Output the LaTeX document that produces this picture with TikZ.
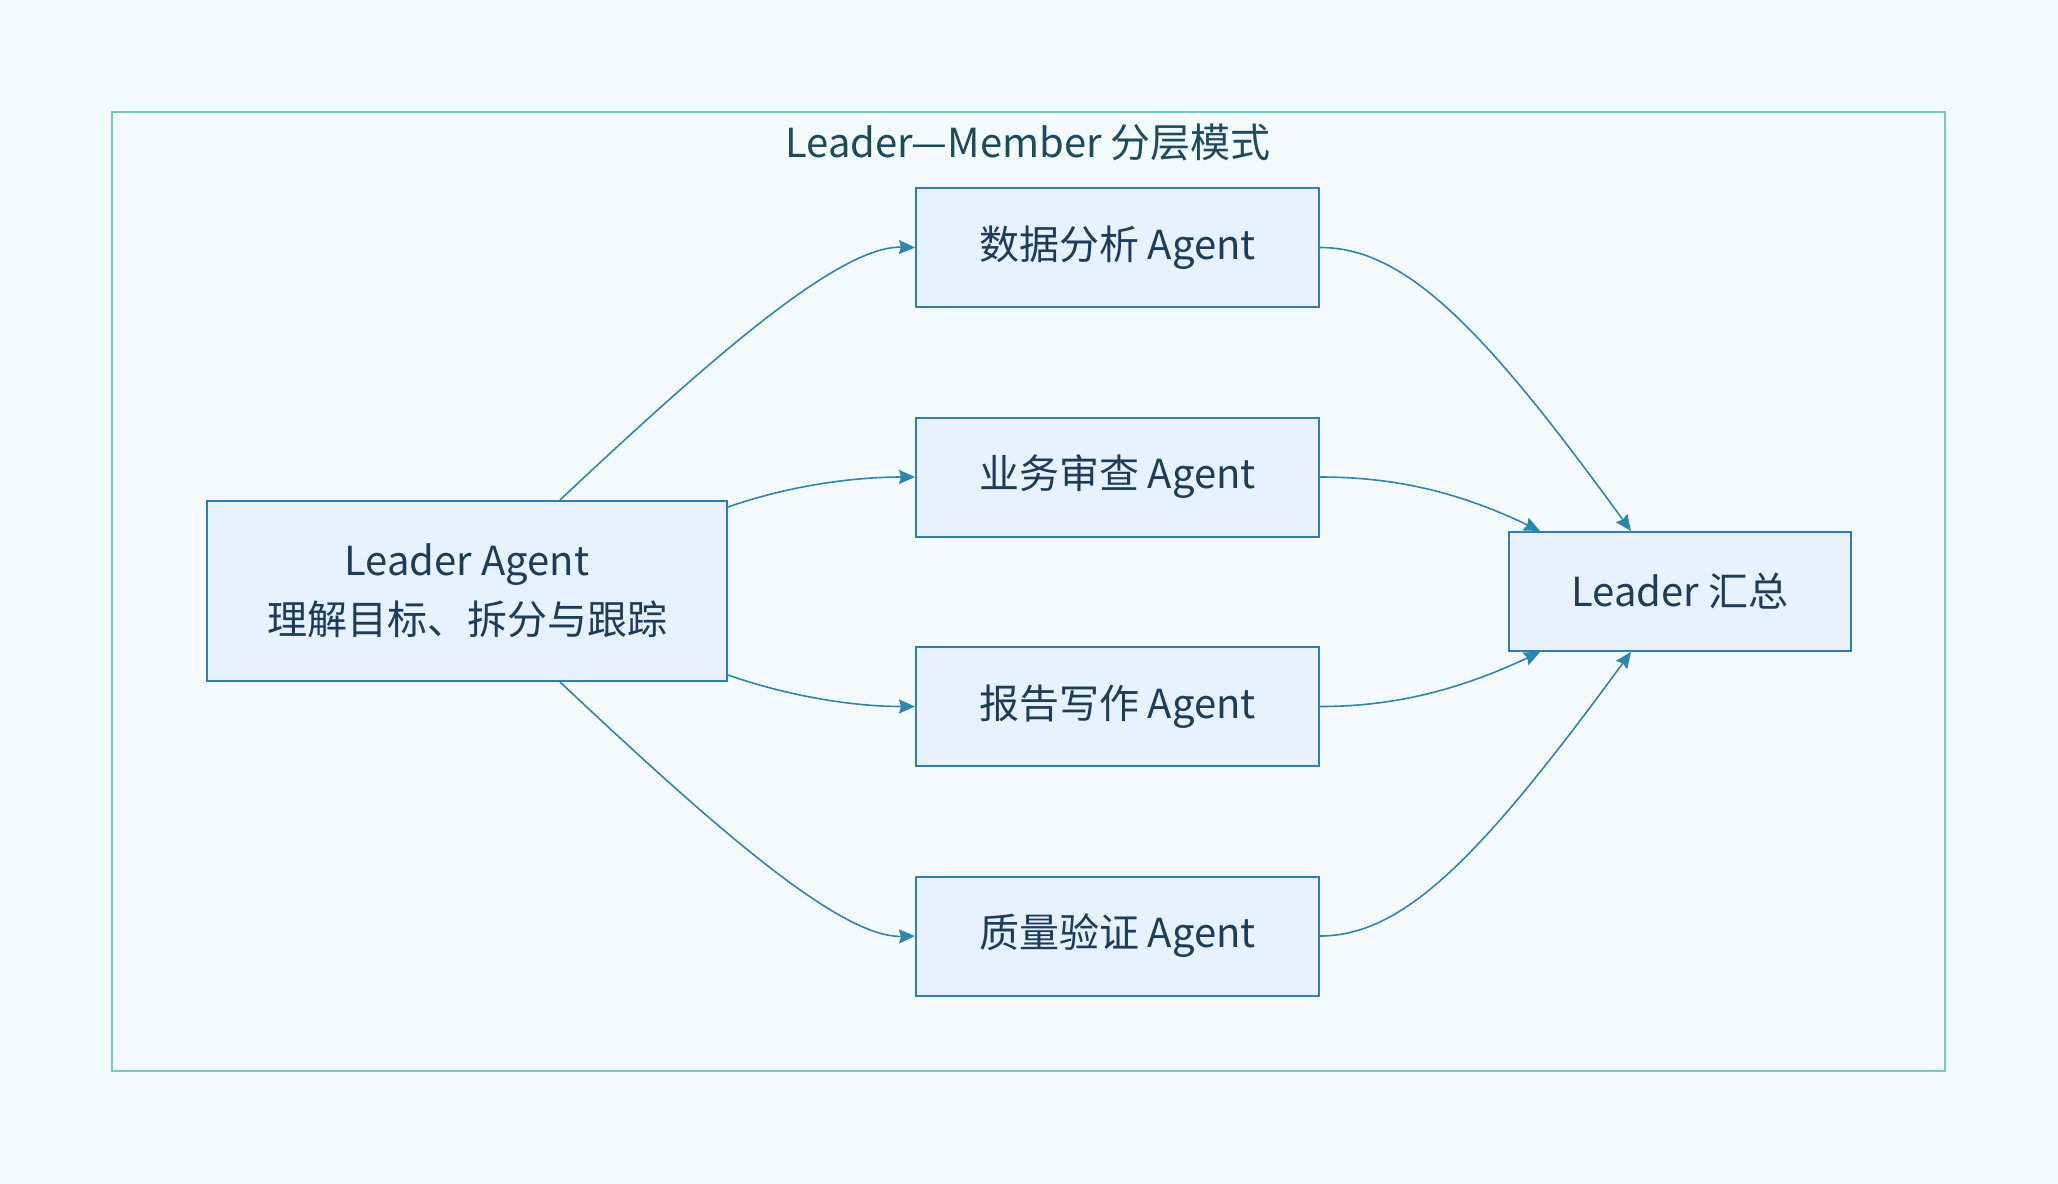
\documentclass[tikz,border=0pt]{standalone}
\usepackage{fontspec}
\setmainfont{Noto Sans CJK SC}
\usetikzlibrary{arrows.meta}
\definecolor{bgc}{HTML}{F4FAFB}
\definecolor{framec}{HTML}{6CCFC4}
\definecolor{boxfill}{HTML}{E8F2FE}
\definecolor{boxline}{HTML}{2B7FB3}
\definecolor{txtc}{HTML}{1B3D5C}
\definecolor{titlec}{HTML}{1B4B5E}
\definecolor{arrc}{HTML}{2A88AC}
\begin{document}
\begin{tikzpicture}[x=0.5pt,y=-0.5pt,
  agentbox/.style={draw=boxline,line width=1pt,fill=boxfill,inner sep=0pt,
    text=txtc,font=\fontsize{20pt}{29.5pt}\selectfont,align=center},
  flow/.style={draw=arrc,line width=0.8pt,-{Stealth[length=8pt,width=7pt,inset=1pt]}}]
\fill[bgc] (0,0) rectangle (2058,1184);
\useasboundingbox (0,0) rectangle (2058,1184);
\node[draw=framec,line width=1pt,minimum width=916.5pt,minimum height=479.5pt,inner sep=0pt] (frame) at (1028.5,591.5) {};
\node[text=titlec,font=\fontsize{20pt}{23pt}\selectfont] (title) at (1028,142) {Leader—Member 分层模式};
\node[agentbox,minimum width=260pt,minimum height=90pt] (lead) at (467,591) {Leader Agent\\理解目标、拆分与跟踪};
\node[agentbox,minimum width=201.5pt,minimum height=59.5pt] (a1) at (1117.5,247.5) {数据分析 Agent};
\node[agentbox,minimum width=201.5pt,minimum height=59.5pt] (a2) at (1117.5,477) {业务审查 Agent};
\node[agentbox,minimum width=201.5pt,minimum height=59.5pt] (a3) at (1117.5,706.5) {报告写作 Agent};
\node[agentbox,minimum width=201.5pt,minimum height=59.5pt] (a4) at (1117.5,936) {质量验证 Agent};
\node[agentbox,minimum width=171pt,minimum height=59.5pt] (sum) at (1680,591.5) {Leader 汇总};
% leader to agents
\draw[flow] ([xshift=46.5pt]lead.north) .. controls +(149,-140) and +(-76,-2) .. (a1.west);
\draw[flow] ([yshift=42pt]lead.east) .. controls +(60,-21) and +(-63,0) .. (a2.west);
\draw[flow] ([yshift=-42pt]lead.east) .. controls +(60,21) and +(-63,0) .. (a3.west);
\draw[flow] ([xshift=46.5pt]lead.south) .. controls +(149,140) and +(-76,2) .. (a4.west);
% agents to summary
\draw[flow] (a1.east) .. controls +(85,0) and +(-148,-204) .. ([xshift=-24.5pt]sum.north);
\draw[flow] (a2.east) .. controls +(72,0) and +(-83,-40) .. ([xshift=-70pt]sum.north);
\draw[flow] (a3.east) .. controls +(72,0) and +(-83,39) .. ([xshift=-70pt]sum.south);
\draw[flow] (a4.east) .. controls +(85,0) and +(-148,202) .. ([xshift=-24.5pt]sum.south);
\end{tikzpicture}
\end{document}
